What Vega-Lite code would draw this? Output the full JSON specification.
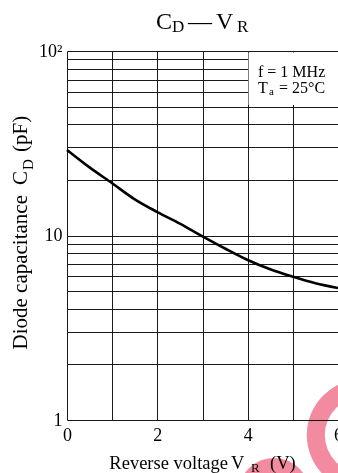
{
  "$schema": "https://vega.github.io/schema/vega-lite/v6.json",
  "width": 271,
  "height": 369,
  "autosize": {"type": "none"},
  "padding": {"left": 67, "top": 51, "right": 0, "bottom": 53},
  "background": "white",
  "config": {"view": {"stroke": null}, "text": {"font": "Liberation Serif", "color": "black", "baseline": "alphabetic"}},
  "data": {"values": [{}]},
  "layer": [
    {
      "mark": {"type": "rect", "fill": "white", "strokeWidth": 0},
      "encoding": {
        "x": {"datum": 4.02, "type": "quantitative", "scale": {"domain": [0, 6], "nice": false, "zero": false},
          "axis": {"values": [0, 1, 2, 3, 4, 5, 6], "grid": true, "gridColor": "#1a1a1a", "gridWidth": 1, "gridOpacity": 1, "domain": false, "ticks": false,
            "labelExpr": "datum.value % 2 == 0 ? datum.value : ''", "labelFont": "Liberation Serif", "labelFontSize": 18, "labelColor": "black", "labelPadding": 6, "labelFlush": false, "labelOverlap": false, "title": null}},
        "x2": {"datum": 6},
        "y": {"datum": 51, "type": "quantitative", "scale": {"type": "log", "domain": [1, 100], "nice": false},
          "axis": {"values": [1, 2, 3, 4, 5, 6, 7, 8, 9, 10, 20, 30, 40, 50, 60, 70, 80, 90, 100], "grid": true, "gridColor": "#1a1a1a", "gridWidth": 1, "gridOpacity": 1, "domain": false, "ticks": false,
            "labelExpr": "datum.value == 100 ? '10²' : datum.value == 10 ? '10' : datum.value == 1 ? '1' : ''", "labelFont": "Liberation Serif", "labelFontSize": 18, "labelColor": "black", "labelPadding": 5, "labelFlush": false, "labelOverlap": false, "title": null}},
        "y2": {"datum": 98}
      }
    },
    {
      "data": {"values": [
        {"VR": 0, "CD": 29.1},
        {"VR": 0.5, "CD": 23.4},
        {"VR": 1, "CD": 19.2},
        {"VR": 1.5, "CD": 15.7},
        {"VR": 2, "CD": 13.4},
        {"VR": 2.5, "CD": 11.6},
        {"VR": 3, "CD": 9.9},
        {"VR": 3.5, "CD": 8.5},
        {"VR": 4, "CD": 7.37},
        {"VR": 4.5, "CD": 6.56},
        {"VR": 5, "CD": 5.98},
        {"VR": 5.5, "CD": 5.51},
        {"VR": 6, "CD": 5.19}
      ]},
      "mark": {"type": "line", "color": "black", "strokeWidth": 2.6, "interpolate": "monotone"},
      "encoding": {
        "x": {"field": "VR", "type": "quantitative"},
        "y": {"field": "CD", "type": "quantitative"}
      }
    },
    {"mark": {"type": "text", "text": "f = 1 MHz", "align": "left", "dx": 191, "dy": 26, "fontSize": 16}, "encoding": {"x": {"datum": 0}, "y": {"datum": 100}}},
    {"mark": {"type": "text", "text": "T", "align": "left", "dx": 191, "dy": 42, "fontSize": 16}, "encoding": {"x": {"datum": 0}, "y": {"datum": 100}}},
    {"mark": {"type": "text", "text": "a", "align": "left", "dx": 202, "dy": 43.5, "fontSize": 11}, "encoding": {"x": {"datum": 0}, "y": {"datum": 100}}},
    {"mark": {"type": "text", "text": "= 25°C", "align": "left", "dx": 212, "dy": 42, "fontSize": 16}, "encoding": {"x": {"datum": 0}, "y": {"datum": 100}}},

    {"mark": {"type": "text", "text": "C", "align": "right", "dx": 105, "dy": -22, "fontSize": 24}, "encoding": {"x": {"datum": 0}, "y": {"datum": 100}}},
    {"mark": {"type": "text", "text": "D", "align": "left", "dx": 105, "dy": -19, "fontSize": 17}, "encoding": {"x": {"datum": 0}, "y": {"datum": 100}}},
    {"mark": {"type": "text", "text": "—", "align": "left", "dx": 121, "dy": -22, "fontSize": 24}, "encoding": {"x": {"datum": 0}, "y": {"datum": 100}}},
    {"mark": {"type": "text", "text": "V", "align": "left", "dx": 149, "dy": -22, "fontSize": 24}, "encoding": {"x": {"datum": 0}, "y": {"datum": 100}}},
    {"mark": {"type": "text", "text": "R", "align": "left", "dx": 170, "dy": -19, "fontSize": 17}, "encoding": {"x": {"datum": 0}, "y": {"datum": 100}}},

    {"mark": {"type": "text", "text": "Reverse voltage", "align": "right", "dx": 161, "dy": 48.5, "fontSize": 18.5}, "encoding": {"x": {"datum": 0}, "y": {"datum": 1}}},
    {"mark": {"type": "text", "text": "V", "align": "left", "dx": 164, "dy": 48.5, "fontSize": 18.5}, "encoding": {"x": {"datum": 0}, "y": {"datum": 1}}},
    {"mark": {"type": "text", "text": "R", "align": "left", "dx": 184, "dy": 52, "fontSize": 13}, "encoding": {"x": {"datum": 0}, "y": {"datum": 1}}},
    {"mark": {"type": "text", "text": "(V)", "align": "left", "dx": 203, "dy": 48.5, "fontSize": 18.5}, "encoding": {"x": {"datum": 0}, "y": {"datum": 1}}},

    {"mark": {"type": "text", "text": "Diode capacitance", "align": "right", "angle": 270, "dx": 40.5, "dy": -40.5, "fontSize": 21}, "encoding": {"x": {"datum": 0}, "y": {"datum": 10}}},
    {"mark": {"type": "text", "text": "C", "align": "left", "angle": 270, "dx": 50.5, "dy": -40.5, "fontSize": 21}, "encoding": {"x": {"datum": 0}, "y": {"datum": 10}}},
    {"mark": {"type": "text", "text": "D", "align": "left", "angle": 270, "dx": 65.5, "dy": -33.7, "fontSize": 15}, "encoding": {"x": {"datum": 0}, "y": {"datum": 10}}},
    {"mark": {"type": "text", "text": "(pF)", "align": "left", "angle": 270, "dx": 83.5, "dy": -40.5, "fontSize": 21}, "encoding": {"x": {"datum": 0}, "y": {"datum": 10}}},

    {"mark": {"type": "arc", "radius": 56, "radius2": 38, "theta": 0, "theta2": 6.2832, "color": "#f38ba0", "blend": "multiply"}, "encoding": {"x": {"datum": 6.549}, "y": {"datum": 0.829}}},
    {"mark": {"type": "arc", "radius": 35.5, "radius2": 17.5, "theta": 0, "theta2": 6.2832, "color": "#f38ba0", "blend": "multiply"}, "encoding": {"x": {"datum": 4.583}, "y": {"datum": 0.4}}}
  ]
}
